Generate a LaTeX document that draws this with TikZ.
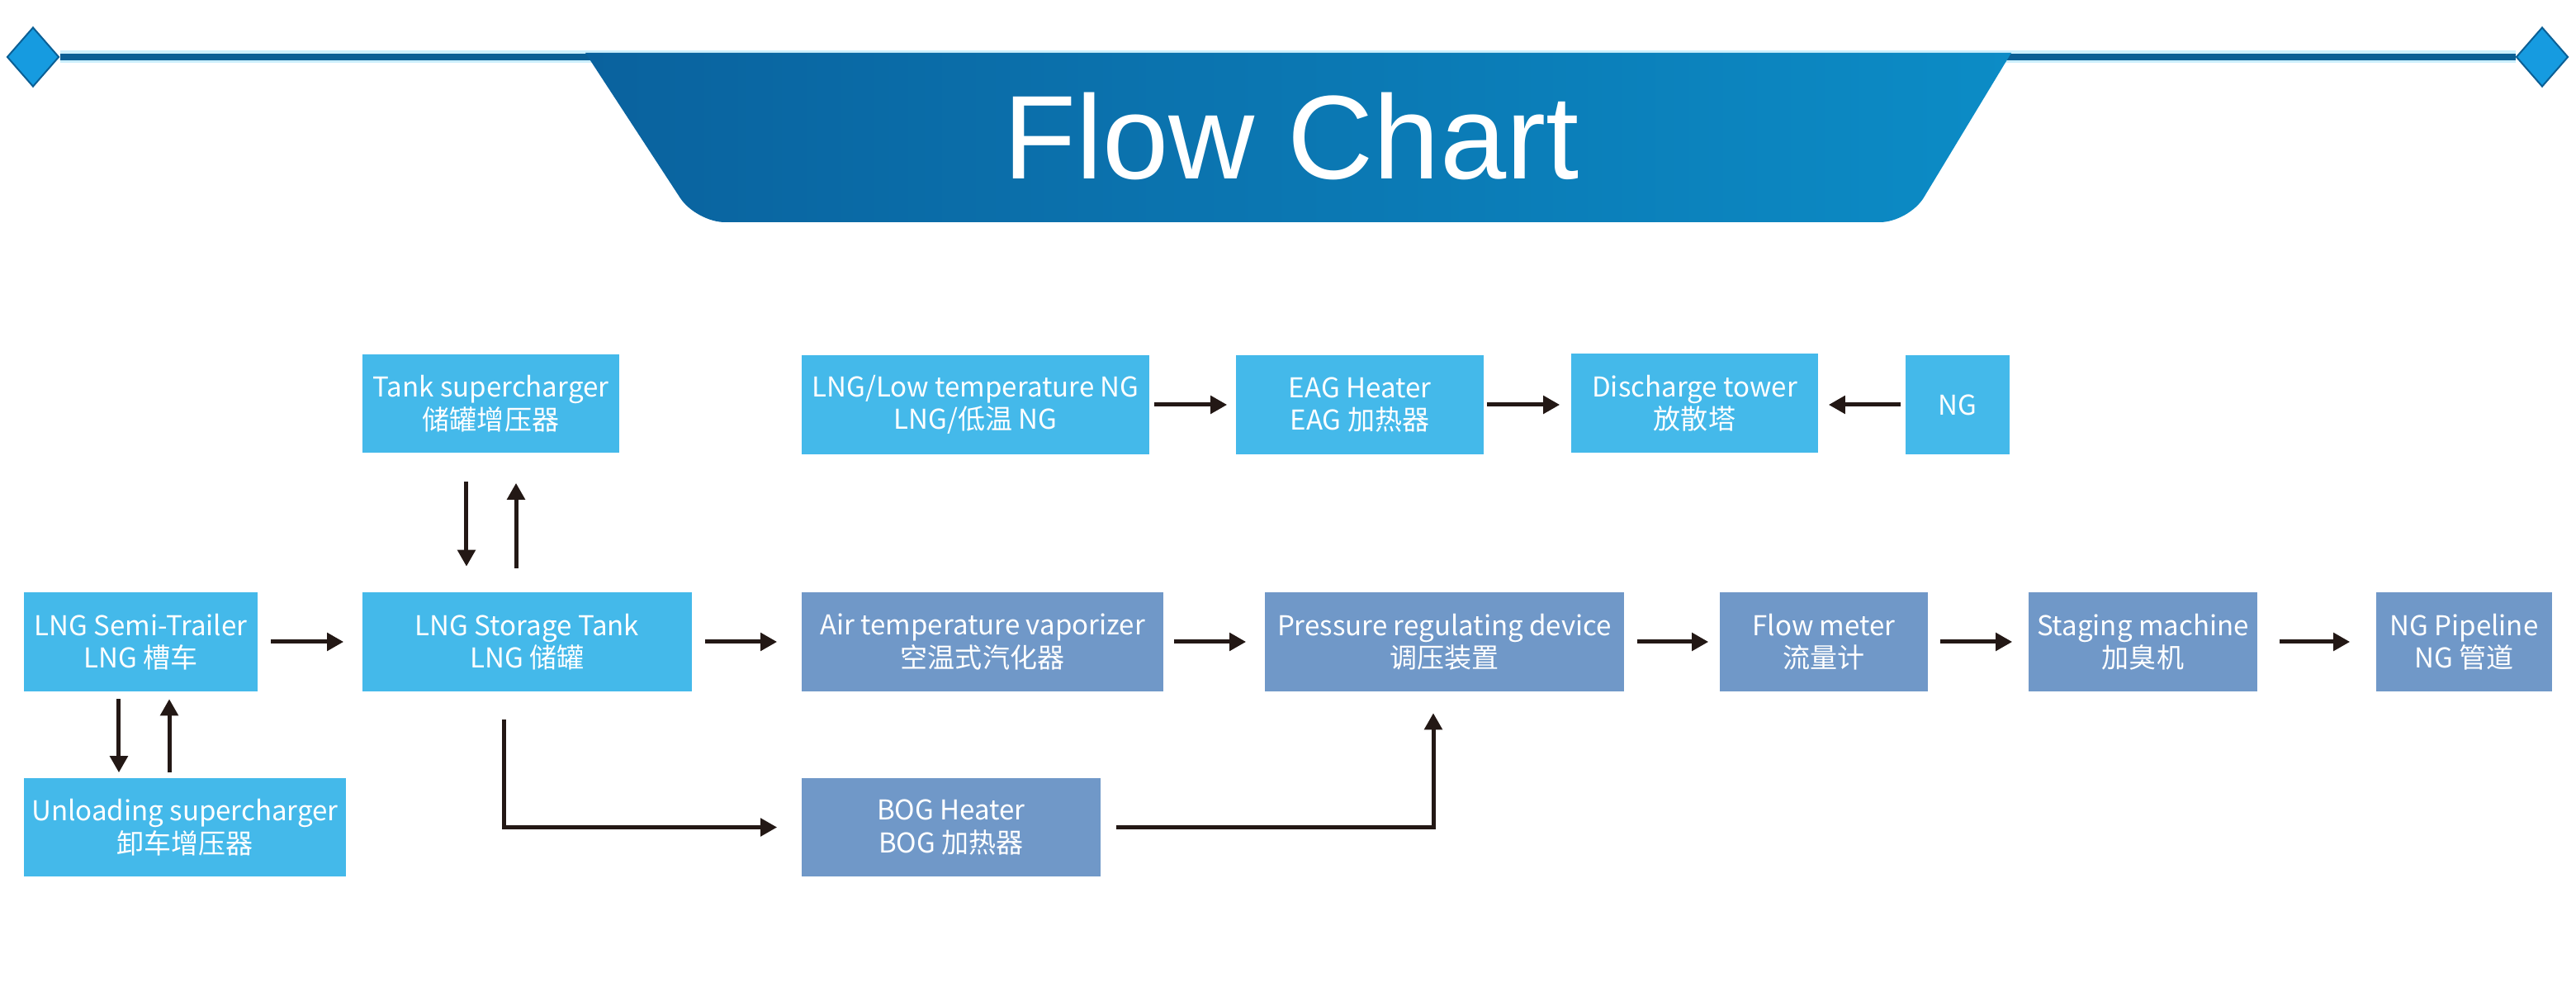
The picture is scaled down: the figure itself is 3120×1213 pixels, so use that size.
\documentclass[tikz,border=0pt]{standalone}
\usepackage{fontspec}
\usepackage{tikz}
\usetikzlibrary{arrows.meta,positioning,calc,shapes.geometric}
\newfontfamily\cjk{Noto Sans CJK SC}
\newfontfamily\titlefont{Liberation Sans}
\definecolor{boxcyan}{RGB}{68,185,234}
\definecolor{boxsteel}{RGB}{112,152,200}
\definecolor{arrowblack}{RGB}{35,24,21}
\definecolor{bandleft}{RGB}{10,98,158}
\definecolor{bandright}{RGB}{12,140,198}
\definecolor{rulecol}{RGB}{11,95,149}
\definecolor{diamcol}{RGB}{22,155,224}

\begin{document}
\begin{tikzpicture}[x=0.01cm, y=-0.01cm, >={Triangle[length=0.2cm,width=0.21cm]},
    cyanbox/.style={fill=boxcyan, text=white, align=center, inner sep=0pt,
        minimum height=1.19cm, font=\cjk\fontsize{9.4}{11.2}\selectfont},
    steelbox/.style={cyanbox, fill=boxsteel},
    flow/.style={->, line width=0.05cm, draw=arrowblack}]
\useasboundingbox (0,0) rectangle (3120,1213);

% Header rule, diamonds and band.
\node[diamond, fill=diamcol, draw=rulecol, line width=0.02cm, inner sep=0pt,
    minimum width=0.63cm, minimum height=0.72cm] (ldiam) at (40,69) {};
\node[diamond, fill=diamcol, draw=rulecol, line width=0.02cm, inner sep=0pt,
    minimum width=0.63cm, minimum height=0.72cm] (rdiam) at (3079,69) {};
\draw[line width=0.15cm, cyan!20] (ldiam.east) -- (rdiam.west);
\draw[line width=0.08cm, rulecol] (ldiam.east) -- (rdiam.west);
\shade[left color=bandleft, right color=bandright]
    (709,64) [rounded corners=0.35cm] -- (843,269) -- (2312,269) [sharp corners] -- (2436,64) -- cycle;
\node[font=\titlefont\fontsize{41}{41}\selectfont, text=white, anchor=base] (title) at (1564,217) {Flow Chart};

% Top row.
\node[cyanbox, minimum width=3.11cm] (tanksc) at (594.5,488.5) {Tank supercharger\\储罐增压器};
\node[cyanbox, minimum width=4.21cm] (lowng) at (1181.5,490) {LNG/Low temperature NG\\LNG/低温 NG};
\node[cyanbox, minimum width=3.00cm] (eag) at (1647,490) {EAG Heater\\EAG 加热器};
\node[cyanbox, minimum width=2.99cm] (disch) at (2052.5,488) {Discharge tower\\放散塔};
\node[cyanbox, minimum width=1.26cm] (ng) at (2371,490) {NG};

% Main row.
\node[cyanbox, minimum width=2.83cm] (trailer) at (170.5,777) {LNG Semi-Trailer\\LNG 槽车};
\node[cyanbox, minimum width=3.99cm] (storage) at (638.5,777) {LNG Storage Tank\\LNG 储罐};
\node[steelbox, minimum width=4.38cm] (airvap) at (1190,777) {Air temperature vaporizer\\空温式汽化器};
\node[steelbox, minimum width=4.35cm] (preg) at (1749.5,777) {Pressure regulating device\\调压装置};
\node[steelbox, minimum width=2.52cm] (flowm) at (2209,777) {Flow meter\\流量计};
\node[steelbox, minimum width=2.77cm] (staging) at (2595.5,777) {Staging machine\\加臭机};
\node[steelbox, minimum width=2.13cm] (pipe) at (2984.5,777) {NG Pipeline\\NG 管道};

% Bottom row.
\node[cyanbox, minimum width=3.90cm] (unload) at (224,1001.5) {Unloading supercharger\\卸车增压器};
\node[steelbox, minimum width=3.62cm] (bog) at (1152,1001.5) {BOG Heater\\BOG 加热器};

% Arrows along the main row (start gap / end gap in mm).
\foreach \a/\b/\s/\e in {trailer/storage/1.5/2.2, storage/airvap/1.5/2.9, airvap/preg/1.2/2.2,
        preg/flowm/1.5/1.3, flowm/staging/1.4/1.9, staging/pipe/2.6/3.1}{
    \draw[flow, shorten <=\s mm, shorten >=\e mm] (\a.east) -- (\b.west);
}
% Vent line.
\draw[flow, shorten <=0.5mm, shorten >=1mm] (lowng.east) -- (eag.west);
\draw[flow, shorten <=0.3mm, shorten >=1.3mm] (eag.east) -- (disch.west |- eag.east);
\draw[flow, shorten <=0.5mm, shorten >=1.2mm] (ng.west) -- (disch.east |- ng.west);
% Superchargers.
\draw[flow, shorten <=0.9mm, shorten >=0.6mm] ([xshift=-0.265cm]trailer.south) -- ([xshift=-0.265cm]trailer.south |- unload.north);
\draw[flow, shorten <=0.6mm, shorten >=0.9mm] ([xshift=0.345cm]trailer.south |- unload.north) -- ([xshift=0.345cm]trailer.south);
\draw[flow, shorten <=3.4mm, shorten >=3.1mm] ([xshift=-0.295cm]tanksc.south) -- ([xshift=-0.295cm]tanksc.south |- storage.north);
\draw[flow, shorten <=2.9mm, shorten >=3.6mm] ([xshift=0.305cm]tanksc.south |- storage.north) -- ([xshift=0.305cm]tanksc.south);
% BOG branch.
\draw[flow, shorten <=3.4mm, shorten >=2.9mm] ([xshift=-0.275cm]storage.south) |- (bog.west);
\draw[flow, shorten <=1.8mm, shorten >=2.6mm] (bog.east) -| ([xshift=-0.135cm]preg.south);
\end{tikzpicture}
\end{document}
